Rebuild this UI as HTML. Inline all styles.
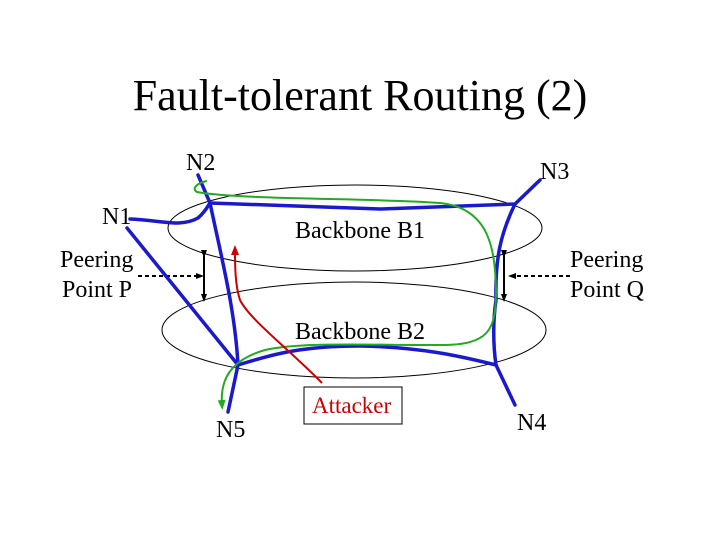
<!DOCTYPE html>
<html><head><style>
html,body{margin:0;padding:0;background:#fff;}
svg{display:block;font-family:"Liberation Serif",serif;}
</style></head><body>
<svg width="720" height="540" viewBox="0 0 720 540" xmlns="http://www.w3.org/2000/svg">
<defs>
<marker id="ab" markerWidth="8" markerHeight="8" refX="4" refY="4" orient="auto" markerUnits="userSpaceOnUse"><path d="M0,1 L8,4 L0,7 z" fill="#000"/></marker>
<marker id="ag" markerWidth="10" markerHeight="10" refX="5" refY="5" orient="auto" markerUnits="userSpaceOnUse"><path d="M0,1 L10,5 L0,9 z" fill="#22aa22"/></marker>
<marker id="ar" markerWidth="10" markerHeight="10" refX="5" refY="5" orient="auto" markerUnits="userSpaceOnUse"><path d="M0,1 L10,5 L0,9 z" fill="#cc0000"/></marker>
</defs>
<text x="360" y="110" font-size="44" text-anchor="middle">Fault-tolerant Routing (2)</text>
<ellipse cx="355" cy="228" rx="187" ry="43" fill="none" stroke="#000" stroke-width="1"/>
<ellipse cx="354" cy="330" rx="192" ry="48" fill="none" stroke="#000" stroke-width="1"/>
<g font-size="24">
<text x="186" y="170">N2</text>
<text x="540" y="179">N3</text>
<text x="102" y="224">N1</text>
<text x="295" y="238">Backbone B1</text>
<text x="60" y="267">Peering</text><text x="62" y="297">Point P</text>
<text x="570" y="267">Peering</text><text x="570" y="297">Point Q</text>
<text x="295" y="339">Backbone B2</text>
<text x="216" y="437">N5</text>
<text x="517" y="430">N4</text>
</g>
<rect x="304" y="387" width="98" height="37" fill="#fff" stroke="#000" stroke-width="1"/>
<text x="312" y="413" font-size="23" fill="#cc0000">Attacker</text>
<line x1="138" y1="276" x2="200" y2="276" stroke="#000" stroke-width="2" stroke-dasharray="4,3" marker-end="url(#ab)"/>
<line x1="204" y1="254" x2="204" y2="298" stroke="#000" stroke-width="2" marker-start="url(#ab)" marker-end="url(#ab)"/>
<line x1="570" y1="276" x2="512" y2="276" stroke="#000" stroke-width="2" stroke-dasharray="4,3" marker-end="url(#ab)"/>
<line x1="504" y1="254" x2="504" y2="298" stroke="#000" stroke-width="2" marker-start="url(#ab)" marker-end="url(#ab)"/>
<g fill="none" stroke="#1a1acc" stroke-width="3.5" stroke-linecap="round">
<path d="M198,175 L210,203"/>
<path d="M130,219 C160,220 180,228 198,218 C205,212 208,206 210,203"/>
<path d="M210,203 L380,209 L515,204 L540,180"/>
<path d="M515,204 C500,235 495,260 496,300 C493,320 493,345 496,365 L515,405"/>
<path d="M127,228 L238,365"/>
<path d="M210,203 C222,260 235,310 238,365 L228,412"/>
<path d="M238,365 C270,355 300,346 360,346 C420,347 460,356 496,365"/>
</g>
<path d="M207,181 C200,182 190,188 197,192 C240,200 380,198 440,203 C490,208 495,250 496,290 C496,330 490,345 440,345 C360,345 300,342 265,350 C230,360 220,380 222,405" fill="none" stroke="#22aa22" stroke-width="2" marker-end="url(#ag)"/>
<path d="M322,383 C290,350 250,320 240,300 C235,285 235,265 235,250" fill="none" stroke="#cc0000" stroke-width="2" marker-end="url(#ar)"/>
</svg>
</body></html>
